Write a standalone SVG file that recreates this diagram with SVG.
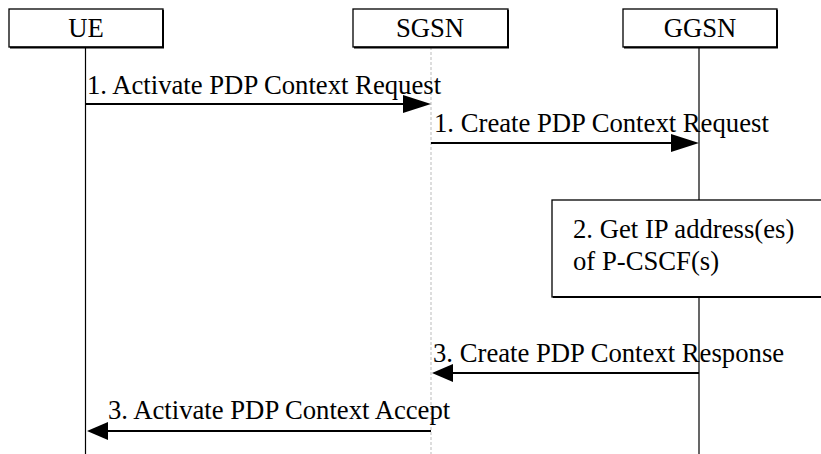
<svg xmlns="http://www.w3.org/2000/svg" width="821" height="454" viewBox="0 0 821 454">
<style>
.box{fill:#fff;stroke:#000;stroke-width:1.3}
.sh{stroke:#000;stroke-width:2;fill:none}
.life{stroke:#000;stroke-width:1.2}
.dash{stroke:#bbb;stroke-width:1;stroke-dasharray:3,2}
.msg{stroke:#000;stroke-width:2}
.head{fill:#000}
</style>
<rect width="821" height="454" fill="#fff"/>
<g font-family="'Liberation Serif', 'Times New Roman', Times, serif" font-size="26.7" fill="#000">
<g id="lifelines">
<line class="life" x1="85.5" y1="47" x2="85.5" y2="454"/>
<line class="dash" x1="431" y1="47" x2="431" y2="454"/>
<line class="life" x1="699" y1="47" x2="699" y2="200"/>
<line class="life" x1="699" y1="297" x2="699" y2="454"/>
</g>
<g id="UE">
<rect class="box" x="9" y="9" width="154" height="38"/>
<polyline class="sh" points="163,10 163,47.5 10,47.5"/>
<text x="86" y="37" text-anchor="middle">UE</text>
</g>
<g id="SGSN">
<rect class="box" x="353" y="9" width="155" height="38"/>
<polyline class="sh" points="508,10 508,47.5 354,47.5"/>
<text x="430" y="37" text-anchor="middle">SGSN</text>
</g>
<g id="GGSN">
<rect class="box" x="623" y="9" width="154" height="38"/>
<polyline class="sh" points="777,10 777,47.5 624,47.5"/>
<text x="700" y="37" text-anchor="middle">GGSN</text>
</g>
<g id="step2">
<rect class="box" x="552" y="200" width="294" height="97"/>
<line class="sh" x1="553" y1="297" x2="821" y2="297"/>
<text x="573" y="238">2. Get IP address(es)</text>
<text x="573" y="270">of P-CSCF(s)</text>
</g>
<g id="connectors">
<line class="msg" x1="86" y1="104" x2="405" y2="104"/>
<polygon class="head" points="431,104 403,95 403,113"/>
<text x="87" y="94">1. Activate PDP Context Request</text>
<line class="msg" x1="431" y1="143" x2="673" y2="143"/>
<polygon class="head" points="699,143 671,134 671,152"/>
<text x="434" y="132">1. Create PDP Context Request</text>
<line class="msg" x1="699" y1="373" x2="450" y2="373"/>
<polygon class="head" points="432,373 453,364 453,382"/>
<text x="433" y="362">3. Create PDP Context Response</text>
<line class="msg" x1="431" y1="431" x2="105" y2="431"/>
<polygon class="head" points="87,431 108,422 108,440"/>
<text x="108" y="419">3. Activate PDP Context Accept</text>
</g>
</g>
</svg>
